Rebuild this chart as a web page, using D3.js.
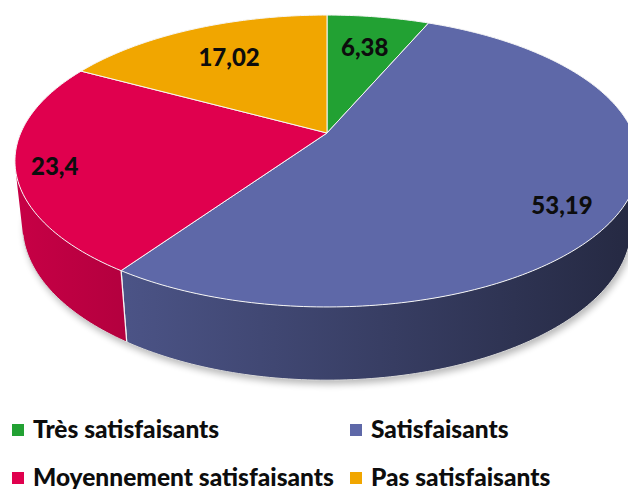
<!DOCTYPE html>
<html>
<head>
<meta charset="utf-8">
<script src="https://cdn.jsdelivr.net/npm/d3@7"></script>
<style>
  html, body { margin: 0; padding: 0; background: #ffffff; }
  svg { display: block; }
  text { font-family: Lato, "Open Sans", sans-serif; font-weight: 900; fill: #0d0d0d; }
</style>
</head>
<body>
<svg id="chart" width="628" height="489"></svg>
<script>
// Satisfaction survey, share of respondents (%)
const categories = ["Très satisfaisants", "Satisfaisants", "Moyennement satisfaisants", "Pas satisfaisants"];
const values = [6.38, 53.19, 23.4, 17.02];
const colors = ["#22a133", "#5e68a8", "#e0004e", "#f1a600"];

// Decimal comma for the value labels
const fr = d3.formatLocale({ decimal: ",", thousands: "\u00a0", grouping: [3], currency: ["", " €"] });
const fmt = fr.format("~g");

const svg = d3.select("#chart");

// ---- 3D camera for the tilted disc ----
const cam = {
  cx: 327, cy: 133,          // screen position of the disc centre
  f: 1418,                   // focal length (px)
  dist: 4.63,                // camera distance in disc radii
  tilt: Math.asin(0.459),    // viewing elevation
  depth: 0.239               // disc thickness in radii
};
const sinT = Math.sin(cam.tilt), cosT = Math.cos(cam.tilt);

// theta: clockwise from the far (top) side, r: radius fraction, y: 0 top face, -depth bottom face
function project(theta, r, y) {
  const x = r * Math.sin(theta), z = r * Math.cos(theta);
  const yc = y * cosT + z * sinT;
  const zc = cam.dist + z * cosT - y * sinT;
  return [cam.cx + cam.f * x / zc, cam.cy - cam.f * yc / zc];
}
function arcPoints(a0, a1, y) {
  const n = Math.max(2, Math.ceil(Math.abs(a1 - a0) / (Math.PI / 180)));
  return d3.range(n + 1).map(i => project(a0 + (a1 - a0) * i / n, 1, y));
}
const line = d3.line();

const pie = d3.pie().sort(null).value(d => d)(values);

// Visible stretch of the outer wall (tangent points seen from the camera)
const wallStart = Math.acos(-1 / (cam.dist * cosT));
const wallEnd = 2 * Math.PI - wallStart;

const defs = svg.append("defs");
const blur = defs.append("filter").attr("id", "shadow")
  .attr("x", "-10%").attr("y", "-10%").attr("width", "120%").attr("height", "130%");
blur.append("feGaussianBlur").attr("stdDeviation", 3.5);

// Horizontal shading for the side walls
const xLeft = project(-Math.PI / 2, 1, 0)[0], xRight = project(Math.PI / 2, 1, 0)[0];
pie.forEach((p, i) => {
  const base = d3.color(colors[i]);
  const g = defs.append("linearGradient").attr("id", "wall" + i)
    .attr("gradientUnits", "userSpaceOnUse")
    .attr("x1", xLeft).attr("x2", xRight).attr("y1", 0).attr("y2", 0);
  g.append("stop").attr("offset", 0).attr("stop-color", base.darker(0.35));
  g.append("stop").attr("offset", 1).attr("stop-color", base.darker(2.6));
});

// Soft shadow under the disc
const bottomRing = arcPoints(0, 2 * Math.PI, -cam.depth).map(([x, y]) => [x + 2, y + 4]);
svg.append("path")
  .attr("d", line(bottomRing) + "Z")
  .attr("fill", "#000").attr("opacity", 0.28)
  .attr("filter", "url(#shadow)");

// Side walls
const walls = svg.append("g");
pie.forEach((p, i) => {
  const a0 = Math.max(p.startAngle, wallStart), a1 = Math.min(p.endAngle, wallEnd);
  if (a1 <= a0) return;
  const pts = arcPoints(a0, a1, 0).concat(arcPoints(a1, a0, -cam.depth));
  walls.append("path")
    .attr("d", line(pts) + "Z")
    .attr("fill", `url(#wall${i})`);
  // seam between neighbouring walls
  [p.startAngle, p.endAngle].forEach(a => {
    if (a > wallStart && a < wallEnd) {
      walls.append("path")
        .attr("d", line([project(a, 1, 0), project(a, 1, -cam.depth)]))
        .attr("stroke", "#f4f4f4").attr("stroke-width", 1.2).attr("fill", "none");
    }
  });
});
// light rim along the bottom edge
walls.append("path")
  .attr("d", line(arcPoints(wallStart, wallEnd, -cam.depth)))
  .attr("fill", "none").attr("stroke", "#d8d8d8").attr("stroke-width", 1);

// Top face slices
const topFace = svg.append("g");
pie.forEach((p, i) => {
  const pts = [project(0, 0, 0)].concat(arcPoints(p.startAngle, p.endAngle, 0));
  topFace.append("path")
    .attr("d", line(pts) + "Z")
    .attr("fill", colors[i])
    .attr("stroke", "#f6f6f6").attr("stroke-width", 1)
    .attr("stroke-linejoin", "round");
});

// Value labels on the top face
const labelPlace = [
  { r: 0.70, shift: 0 },
  { r: 0.84, shift: 5 },
  { r: 0.88, shift: -1.5 },
  { r: 0.70, shift: 0 }
];
pie.forEach((p, i) => {
  const mid = (p.startAngle + p.endAngle) / 2 + labelPlace[i].shift * Math.PI / 180;
  const [x, y] = project(mid, labelPlace[i].r, 0);
  svg.append("text")
    .attr("x", x).attr("y", y).attr("dy", "0.36em")
    .attr("text-anchor", "middle")
    .attr("font-size", 24)
    .text(fmt(values[i]));
});

// Legend, two columns
const legendCols = [12, 350];
const legendRows = [430, 478];
const legend = svg.append("g");
categories.forEach((c, i) => {
  const gx = legendCols[i % 2], gy = legendRows[Math.floor(i / 2)];
  legend.append("rect")
    .attr("x", gx).attr("y", gy - 6).attr("width", 12).attr("height", 12)
    .attr("fill", colors[i]);
  legend.append("text")
    .attr("x", gx + 21).attr("y", gy + 7.5)
    .attr("font-size", 24.5)
    .text(c);
});
</script>
</body>
</html>
